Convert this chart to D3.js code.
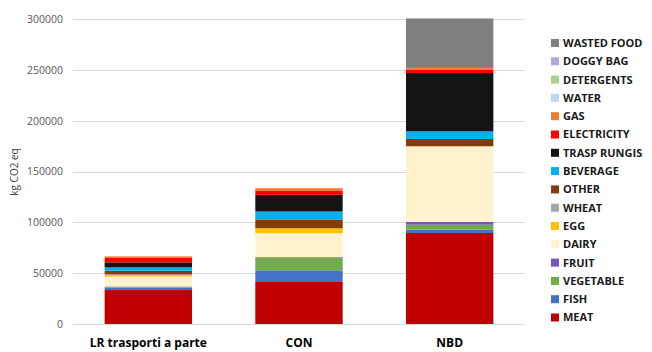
<!DOCTYPE html>
<html><head><meta charset="utf-8">
<script src="https://cdn.jsdelivr.net/npm/d3@7"></script>
<style>body{margin:0;background:#fff}svg{display:block}</style>
</head><body>
<svg id="c" width="652" height="352"></svg>
<script>
const categories = ["LR trasporti a parte", "CON", "NBD"];
const seriesNames = ["MEAT","FISH","VEGETABLE","FRUIT","DAIRY","EGG","WHEAT","OTHER","BEVERAGE","TRASP RUNGIS","ELECTRICITY","GAS","WATER","DETERGENTS","DOGGY BAG","WASTED FOOD"];
const meat        = [33400, 42000, 89500];
const fish        = [2500, 10800, 3300];
const vegetable   = [500, 12000, 4900];
const fruit       = [500, 900, 2700];
const dairy       = [9800, 23600, 74400];
const egg         = [1600, 4900, 0];
const wheat       = [500, 0, 0];
const other       = [3600, 8200, 7200];
const beverage    = [3300, 8200, 7500];
const traspRungis = [4900, 16400, 57400];
const electricity = [4900, 4300, 3500];
const gas         = [1000, 2300, 1500];
const water       = [0, 0, 0];
const detergents  = [0, 0, 0];
const doggyBag    = [0, 0, 0];
const wastedFood  = [0, 0, 48600];
const yTicks = [0, 50000, 100000, 150000, 200000, 250000, 300000];

const seriesValues = [meat,fish,vegetable,fruit,dairy,egg,wheat,other,beverage,traspRungis,electricity,gas,water,detergents,doggyBag,wastedFood];
const colors = ["#c00000","#4472c4","#70ad47","#7354c0","#fff2cc","#ffc000","#a5a5a5","#843c0c","#00b0f0","#141414","#ff0000","#ed7d31","#bdd7ee","#a9d18e","#b4a7e0","#7f7f7f"];

const table = categories.map((c,i)=>{const o={cat:c}; seriesNames.forEach((s,j)=>o[s]=seriesValues[j][i]); return o;});
const stack = d3.stack().keys(seriesNames)(table);

const svg = d3.select("#c");
const m = {l:73, r:127, t:19, b:28};
const W = 652, H = 352;
const x = d3.scaleBand().domain(categories).range([m.l, W-m.r]).paddingInner(0.42).paddingOuter(0.21);
const y = d3.scaleLinear().domain([0,300000]).range([H-m.b, m.t]);

const grid = svg.append("g");
grid.selectAll("line").data(yTicks).join("line")
  .attr("x1", m.l).attr("x2", W-m.r)
  .attr("y1", d=>Math.round(y(d))+0.5).attr("y2", d=>Math.round(y(d))+0.5)
  .attr("stroke", "#d9d9d9").attr("stroke-width", 1);

const yAxis = svg.append("g").attr("transform", `translate(${m.l},0)`)
  .call(d3.axisLeft(y).tickValues(yTicks).tickSize(0).tickPadding(10).tickFormat(d3.format("d")));
yAxis.select(".domain").remove();
yAxis.selectAll("text").attr("font-family","Open Sans, sans-serif").attr("font-size","10.5px").attr("fill","#595959");

svg.append("g").selectAll("g").data(stack).join("g")
  .attr("fill",(d,i)=>colors[i])
  .selectAll("rect").data(d=>d).join("rect")
  .attr("x", d=>x(d.data.cat)).attr("width", x.bandwidth())
  .attr("y", d=>y(d[1])).attr("height", d=>Math.max(0, y(d[0])-y(d[1])));

const xAxis = svg.append("g").attr("transform", `translate(0,${H-m.b})`)
  .call(d3.axisBottom(x).tickSize(0).tickPadding(14));
xAxis.select(".domain").remove();
xAxis.selectAll("text").attr("font-family","Open Sans, sans-serif").attr("font-weight","bold").attr("font-size","12px").attr("fill","#000");

svg.append("text").attr("transform","translate(18,172) rotate(-90)")
  .attr("text-anchor","middle").attr("font-family","Open Sans, sans-serif").attr("font-size","10px").attr("fill","#404040")
  .text("kg CO2 eq");

const legendOrder = seriesNames.map((s,i)=>i).reverse();
const lg = svg.append("g").selectAll("g").data(legendOrder).join("g")
  .attr("transform",(d,k)=>`translate(551,${43 + k*18.3})`);
lg.append("rect").attr("x",0).attr("y",-4).attr("width",8).attr("height",8).attr("fill",d=>colors[d]);
lg.append("text").attr("x",12).attr("y",0).attr("dy","0.36em")
  .attr("font-family","Open Sans, sans-serif").attr("font-weight","bold").attr("font-size","11px").attr("fill","#1a1a1a")
  .text(d=>seriesNames[d]);
</script>
</body></html>
